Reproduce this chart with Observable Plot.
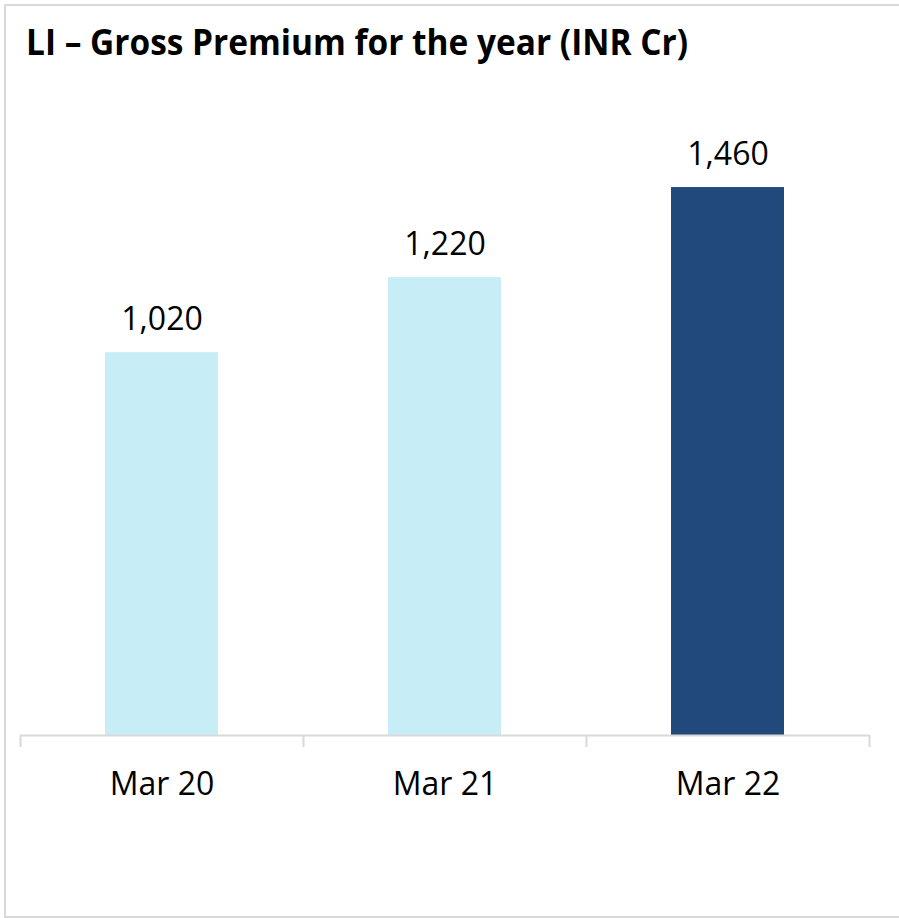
<!DOCTYPE html>
<html>
<head>
<meta charset="utf-8">
<script src="https://cdn.jsdelivr.net/npm/d3@7"></script>
<script src="https://cdn.jsdelivr.net/npm/@observablehq/plot@0.6"></script>
<style>
  html, body { margin: 0; padding: 0; background: #fff; }
  body { width: 899px; height: 918px; overflow: hidden; position: relative; font-family: "Open Sans", sans-serif; }
  #frame { position: absolute; left: 4px; top: 4px; width: 920px; height: 914px;
           border: 2px solid #d9d9d9; box-sizing: border-box; }
  #title { position: absolute; left: 26px; top: 18px; font-size: 35px; font-weight: 700; color: #000;
           white-space: nowrap; transform-origin: left top; }
  #chart { position: absolute; left: 0; top: 90px; }
</style>
</head>
<body>
<div id="frame"></div>
<div id="title">LI – Gross Premium for the year (INR Cr)</div>
<div id="chart"></div>
<script>
const categories = ["Mar 20", "Mar 21", "Mar 22"];
const premiums = [1020, 1220, 1460];
const barColors = ["#c7eef7", "#c7eef7", "#21497b"];

const data = categories.map((c, i) => ({ period: c, value: premiums[i], color: barColors[i] }));

const W = 899, H = 828, mL = 20, mR = 30, mT = 44.5, mB = 183;
const step = (W - mL - mR) / categories.length;

const plot = Plot.plot({
  width: W,
  height: H,
  marginLeft: mL,
  marginRight: mR,
  marginTop: mT,
  marginBottom: mB,
  style: { fontFamily: "'Open Sans', sans-serif", background: "transparent", color: "#000" },
  x: { type: "band", domain: categories, paddingInner: 0.6, paddingOuter: 0.3, label: null },
  y: { domain: [0, 1600], axis: null },
  marks: [
    Plot.barY(data, { x: "period", y: "value", fill: "color" }),
    Plot.ruleY([0], { stroke: "#d9d9d9", strokeWidth: 2 }),
    Plot.ruleX(categories, { x: d => d, y1: 0, y2: -32, dx: -step / 2, stroke: "#d9d9d9", strokeWidth: 2 }),
    Plot.ruleX([categories[categories.length - 1]], { x: d => d, y1: 0, y2: -32, dx: step / 2, stroke: "#d9d9d9", strokeWidth: 2 }),
    Plot.text(data, { x: "period", y: "value", text: d => d3.format(",")(d.value), dy: -33, fontSize: 32, fill: "#000" }),
    Plot.axisX({ tickSize: 0, tickPadding: 37, fontSize: 32, label: null, color: "#000" })
  ]
});
document.getElementById("chart").appendChild(plot);

const t = document.getElementById("title");
const target = 662;
const w = t.getBoundingClientRect().width;
if (w > 0) t.style.transform = `scaleX(${target / w})`;
</script>
</body>
</html>
